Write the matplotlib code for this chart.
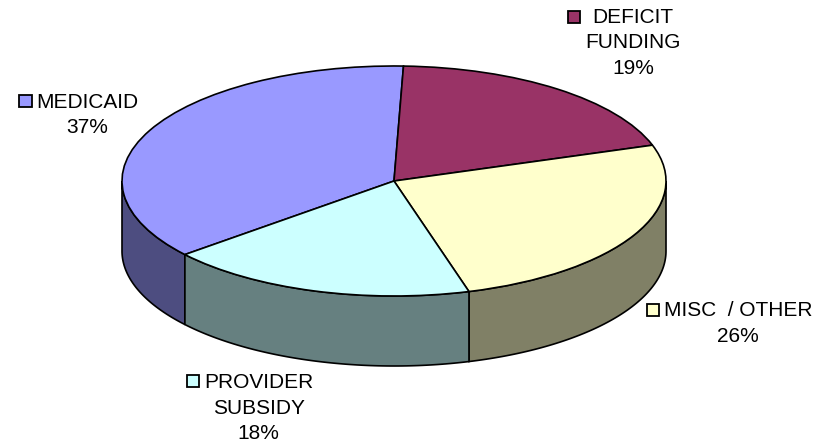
import numpy as np
import matplotlib
matplotlib.use("Agg")
import matplotlib.pyplot as plt

plt.rcParams['font.family'] = ['Liberation Sans', 'DejaVu Sans']

# --- Data ---
LABELS = ['MEDICAID', 'DEFICIT\nFUNDING', 'MISC  / OTHER', 'PROVIDER\nSUBSIDY']
PERCENT_LABELS = ['37%', '19%', '26%', '18%']
# slice sizes, the printed labels are these rounded
VALUES = [36.6, 19.4, 25.6, 18.4]
TOP_COLORS = ['#9999FF', '#993366', '#FFFFCC', '#CCFFFF']
SIDE_COLORS = ['#4D4D80', '#4D1A33', '#808066', '#668080']

W, H = 831, 445
CX, CY = 394, 181      # pie centre, pixels
RX, RY = 272, 115      # pie radii, pixels
DEPTH = 70 / RY        # wall height in data units
START = 88 + 3.6 * VALUES[0]   # Medicaid's edge in the lower left

fig = plt.figure(figsize=(W / 100, H / 100), dpi=100)
ax = fig.add_axes([0, 0, 1, 1])

# walls, only the front half of the rim is visible
angles = START - np.cumsum([0] + VALUES) * 3.6
for i, color in enumerate(SIDE_COLORS):
    a0, a1 = angles[i], angles[i + 1]
    for shift in (0, -360):
        lo, hi = max(a1 + shift, -180), min(a0 + shift, 0)
        if lo >= hi:
            continue
        t = np.radians(np.linspace(lo, hi, 80))
        x = np.concatenate([np.cos(t), np.cos(t[::-1])])
        y = np.concatenate([np.sin(t), np.sin(t[::-1]) - DEPTH])
        ax.fill(x, y, facecolor=color, edgecolor='black', linewidth=1.2, zorder=1)

# top face, clockwise from Medicaid's start edge
ax.pie(VALUES, colors=TOP_COLORS, startangle=START, counterclock=False,
       radius=1, center=(0, 0),
       wedgeprops={'edgecolor': 'black', 'linewidth': 1.2, 'zorder': 2})

ax.set_aspect('auto')
ax.set_xlim(-CX / RX, (W - CX) / RX)
ax.set_ylim((CY - H) / RY, CY / RY)
ax.axis('off')


def px(x, y):
    return (x / W, 1 - y / H)


def data_label(i, x, y, sw_x, sw_y):
    fig.text(*px(x, y), f"{LABELS[i]}\n{PERCENT_LABELS[i]}", ha='center', va='center',
             fontsize=15, linespacing=1.43, color='black')
    fig.add_artist(plt.Rectangle(px(sw_x + 0.75, sw_y + 13.25), 12.5 / W, 12.5 / H,
                                 transform=fig.transFigure, facecolor=TOP_COLORS[i],
                                 edgecolor='black', linewidth=1.3))


data_label(0, 87, 115, 18.5, 94)
data_label(1, 633, 43, 567, 10)
data_label(2, 738, 323.5, 646, 303)
data_label(3, 258.5, 408, 186, 374)

fig.savefig('out.png', dpi=100)
